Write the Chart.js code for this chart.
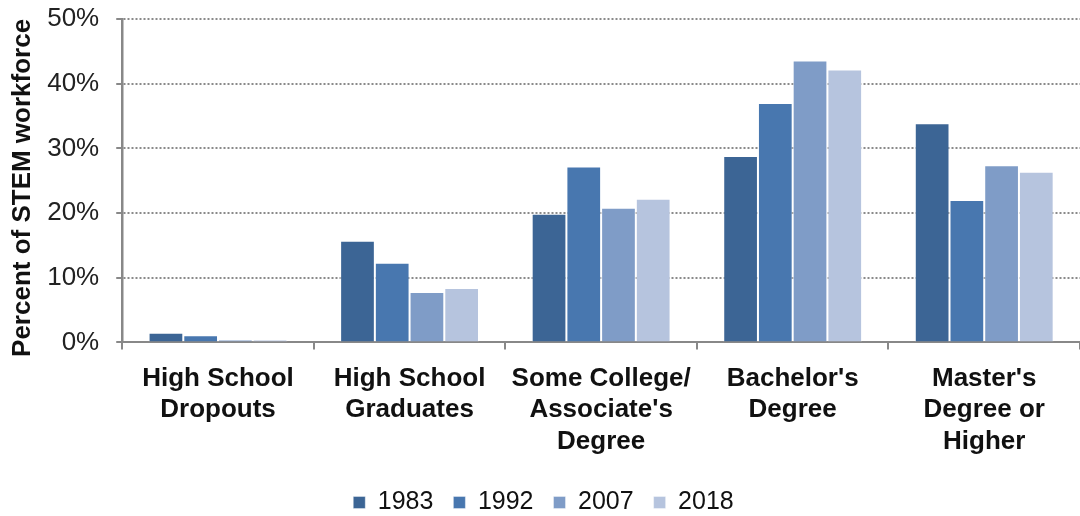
<!DOCTYPE html>
<html>
<head>
<meta charset="utf-8">
<script src="https://cdn.jsdelivr.net/npm/chart.js@4"></script>
<style>
html,body{margin:0;padding:0;background:#fff;}
#wrap{width:1080px;height:516px;position:relative;}
</style>
</head>
<body>
<div id="wrap"><canvas id="c"></canvas></div>
<script>
const categories = [
  ["High School","Dropouts"],
  ["High School","Graduates"],
  ["Some College/","Associate's","Degree"],
  ["Bachelor's","Degree"],
  ["Master's","Degree or","Higher"]
];
const years = ["1983","1992","2007","2018"];
const v1983 = [1.5, 15.7, 19.9, 28.8, 33.9];
const v1992 = [1.1, 12.3, 27.2, 37.0, 22.0];
const v2007 = [0.4, 7.8, 20.8, 43.6, 27.4];
const v2018 = [0.4, 8.4, 22.2, 42.2, 26.4];
const colors = ["#3C6595","#4877AF","#7F9CC7","#B6C4DE"];
const yTicks = [0,10,20,30,40,50];

const series = [v1983, v1992, v2007, v2018];
const FONT = "'Liberation Sans', Arial, sans-serif";

new Chart(document.getElementById('c'), {
  type: 'bar',
  data: {
    labels: categories,
    datasets: series.map((d,i)=>({
      label: years[i],
      data: d,
      backgroundColor: colors[i],
      borderColor: 'rgba(255,255,255,0.5)',
      borderWidth: {top:1,left:1,right:1,bottom:0},
      categoryPercentage: 0.725,
      barPercentage: 1.0
    }))
  },
  options: {
    responsive: true,
    maintainAspectRatio: false,
    animation: false,
    layout: { padding: { top: 0, right: 0, left: 7, bottom: -9 } },
    plugins: {
      legend: {
        position: 'bottom',
        labels: {
          boxWidth: 12, boxHeight: 12,
          color: '#111',
          font: { family: FONT, size: 25 },
          padding: 20
        }
      },
      tooltip: { enabled: false }
    },
    scales: {
      x: {
        offset: true,
        afterFit: (s) => { s.height -= 1; s.paddingLeft = 0; s.paddingRight = 0; },
        grid: {
          offset: true,
          drawOnChartArea: false,
          drawTicks: true,
          tickLength: 7,
          color: '#888',
          lineWidth: 2
        },
        border: { color: '#888', width: 2 },
        ticks: {
          color: '#111',
          maxRotation: 0,
          autoSkip: false,
          padding: 14,
          font: { family: FONT, size: 26, weight: 'bold', lineHeight: 1.2 }
        }
      },
      y: {
        min: 0, max: 50,
        afterBuildTicks: (ax) => { ax.ticks = yTicks.map(v=>({value:v})); },
        afterFit: (s) => { s.paddingTop = 19; },
        grid: {
          color: (ctx) => ctx.tick && ctx.tick.value === 0 ? 'rgba(0,0,0,0)' : '#8a8a8a',
          tickColor: '#888',
          lineWidth: 2,
          drawTicks: true,
          tickLength: 6
        },
        border: { color: '#888', width: 2.5, dash: [2,2] },
        ticks: {
          color: '#222',
          padding: 17,
          font: { family: FONT, size: 26 },
          callback: (v) => v + '%'
        },
        title: {
          display: true,
          text: 'Percent of STEM workforce  ',
          color: '#111',
          font: { family: FONT, size: 26, weight: 'bold' },
          padding: { top: 0, bottom: -8 }
        }
      }
    }
  }
});
</script>
</body>
</html>
